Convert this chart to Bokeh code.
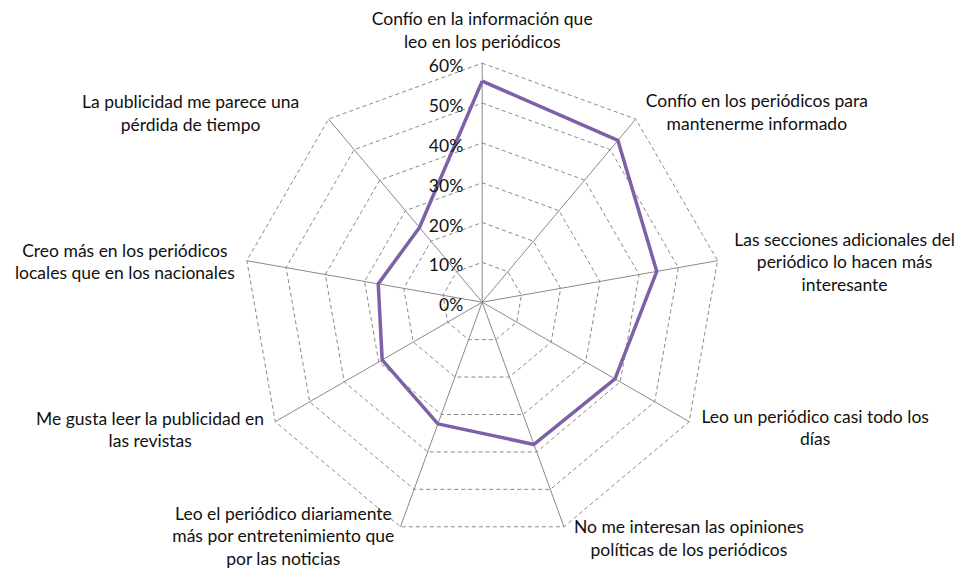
import numpy as np
from bokeh.plotting import figure
from bokeh.models import Range1d, ColumnDataSource
from bokeh.core.properties import value
from bokeh.embed import file_html
from bokeh.resources import INLINE

# ---- data ----
categories = [
    "Confío en la información que\nleo en los periódicos",
    "Confío en los periódicos para\nmantenerme informado",
    "Las secciones adicionales del\nperiódico lo hacen más\ninteresante",
    "Leo un periódico casi todo los\ndías",
    "No me interesan las opiniones\npolíticas de los periódicos",
    "Leo el periódico diariamente\nmás por entretenimiento que\npor las noticias",
    "Me gusta leer la publicidad en\nlas revistas",
    "Creo más en los periódicos\nlocales que en los nacionales",
    "La publicidad me parece una\npérdida de tiempo",
]
values = [55.5, 53.0, 44.5, 38.5, 38.0, 32.5, 29.0, 26.5, 24.5]
tick_values = [0, 10, 20, 30, 40, 50, 60]
tick_labels = ["0%", "10%", "20%", "30%", "40%", "50%", "60%"]

# ---- layout / style ----
W, H = 962, 569
SCALE = 239.0 / 60.0          # px per percent
CX, CY = 481.7, 301.7         # centre in figure px
FONT = "Lato"
FS = "17.5px"
LINE_H = 22.5
label_dx = [0, 121, 127, 126, 125, -117, -125, -122, -138]
label_dy = [-33, -7, 1, 6, 11, 9, 8, 1, -6]

n = len(categories)
rmax = tick_values[-1]
ang = np.arange(n) * 2 * np.pi / n

p = figure(width=W, height=H, output_backend="svg", toolbar_location=None,
           x_axis_location=None, y_axis_location=None, min_border=0,
           x_range=Range1d(-CX / SCALE, (W - CX) / SCALE),
           y_range=Range1d(-(H - CY) / SCALE, CY / SCALE))
p.grid.visible = False
p.outline_line_color = None
p.background_fill_color = "white"
p.border_fill_color = "white"

# rings (dashed)
ring_xs, ring_ys = [], []
for t in tick_values[1:]:
    a = np.append(ang, ang[0])
    ring_xs.append(list(t * np.sin(a)))
    ring_ys.append(list(t * np.cos(a)))
p.multi_line(ring_xs, ring_ys, line_color="#8a8a8a", line_width=1, line_dash="4 3")

# spokes
p.segment(x0=[0] * n, y0=[0] * n, x1=list(rmax * np.sin(ang)), y1=list(rmax * np.cos(ang)),
          line_color="#8a8a8a", line_width=1)

# data polygon
va = np.array(values)
a = np.append(ang, ang[0])
vv = np.append(va, va[0])
p.line(list(vv * np.sin(a)), list(vv * np.cos(a)), line_color="#7E60A6",
       line_width=3.5, line_join="round")

# tick labels
p.text(x=[0] * len(tick_values), y=tick_values, text=tick_labels,
       x_offset=-19, y_offset=2.5, text_align="right", text_baseline="middle",
       text_font=value(FONT), text_font_size=FS, text_color="#111111")

# category labels
lx, ly, lt, lxo, lyo = [], [], [], [], []
for k, cat in enumerate(categories):
    lines = cat.split("\n")
    m = len(lines)
    ex, ey = rmax * np.sin(ang[k]), rmax * np.cos(ang[k])
    for j, ln in enumerate(lines):
        lx.append(ex); ly.append(ey); lt.append(ln)
        lxo.append(label_dx[k])
        lyo.append(label_dy[k] + (j - (m - 1) / 2) * LINE_H)
src = ColumnDataSource(dict(x=lx, y=ly, text=lt, xo=lxo, yo=lyo))
p.text(x="x", y="y", text="text", x_offset="xo", y_offset="yo", source=src,
       text_align="center", text_baseline="middle",
       text_font=value(FONT), text_font_size=FS, text_color="#111111")

open("out.html", "w").write(file_html(p, INLINE))
